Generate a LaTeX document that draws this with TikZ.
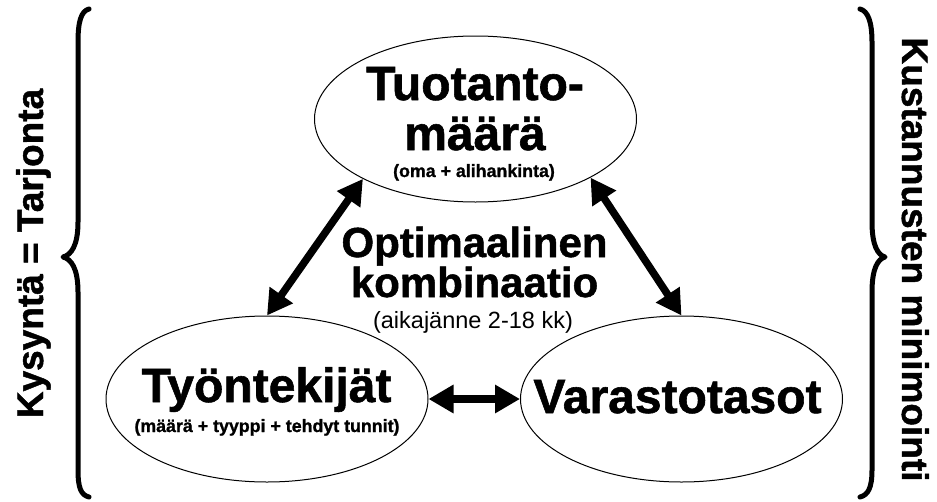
\documentclass[tikz,border=0pt]{standalone}
\usepackage{fontspec}
\setmainfont{Liberation Sans}[BoldFeatures={FakeBold=1.2}]
\usetikzlibrary{arrows.meta,shapes.geometric}
\begin{document}
\begin{tikzpicture}[x=1pt,y=-1pt,
  oval/.style={draw,ellipse,line width=1pt,minimum width=322pt,minimum height=166pt,inner sep=0pt},
  bigtxt/.style={font=\bfseries\fontsize{48}{50}\selectfont,anchor=base,inner sep=0pt},
  midtxt/.style={font=\bfseries\fontsize{42}{44}\selectfont,anchor=base,inner sep=0pt},
  smalltxt/.style={font=\bfseries\fontsize{17.8}{20}\selectfont,anchor=base,inner sep=0pt},
  regtxt/.style={font=\fontsize{23.5}{26}\selectfont,anchor=base,inner sep=0pt},
  sidetxt/.style={font=\bfseries\fontsize{37}{40}\selectfont,anchor=base,inner sep=0pt},
  dbl/.style={line width=7.5pt,{Triangle[length=25pt,width=27pt]}-{Triangle[length=25pt,width=27pt]}},
  brace/.style={line width=5pt,line cap=round,line join=round}]
\useasboundingbox (0,0) rectangle (937,501);

% ellipses
\node[oval] (top) at (475.5,119) {};
\node[oval] (lw) at (267,399) {};
\node[oval] (rv) at (681.5,399) {};

% texts in top ellipse
\node[bigtxt] (t1) at (475,100) {Tuotanto-};
\node[bigtxt] (t2) at (475,150) {määrä};
\node[smalltxt] (t3) at (474,177) {(oma + alihankinta)};

% centre text
\node[midtxt] (c1) at (474.5,257) {Optimaalinen};
\node[midtxt] (c2) at (474.5,297) {kombinaatio};
\node[regtxt] (c3) at (473,328) {(aikajänne 2-18 kk)};

% lower left
\node[bigtxt] (w1) at (266.5,402) {Työntekijät};
\node[smalltxt] (w2) at (267,432) {(määrä + tyyppi + tehdyt tunnit)};

% lower right
\node[bigtxt] (v1) at (677.5,413) {Varastotasot};

% side labels
\node[sidetxt,rotate=90] (kt) at (43,253.5) {Kysyntä = Tarjonta};
\node[sidetxt,rotate=-90] (km) at (902,259.5) {Kustannusten minimointi};

% arrows
\draw[dbl] (top.208) -- (lw.north);
\draw[dbl] (top.333) -- (rv.north);
\draw[dbl] (lw.east) -- (rv.west);

% braces
\draw[brace] (89,9) .. controls (81,11) and (78,22) .. (78,42) -- (78,222)
  .. controls (78,246) and (71,255) .. (63,257)
  .. controls (71,259) and (78,268) .. (78,292) -- (78,470)
  .. controls (78,488) and (81,495) .. (89,497);
\draw[brace] (860,9) .. controls (868,11) and (872,22) .. (872,42) -- (872,222)
  .. controls (872,246) and (878,255) .. (885,257)
  .. controls (878,259) and (872,268) .. (872,292) -- (872,470)
  .. controls (872,488) and (868,495) .. (860,497);
\end{tikzpicture}
\end{document}
